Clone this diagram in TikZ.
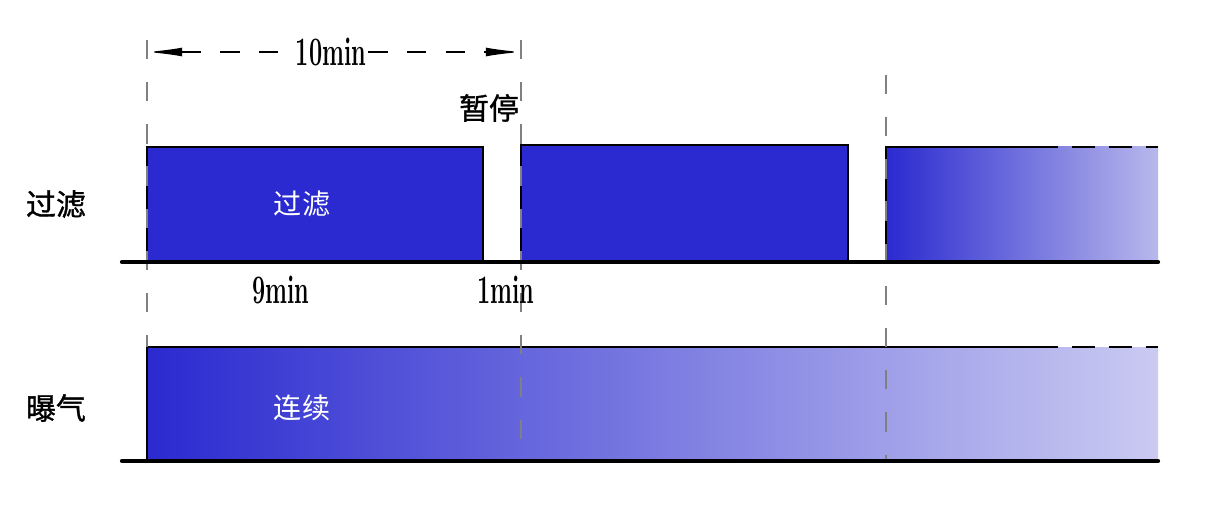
\documentclass[tikz,border=0pt]{standalone}
\usepackage{fontspec}
\usepackage{graphicx}
\newfontfamily\cjk{Noto Sans CJK SC}
\newfontfamily\cjkmed[FakeBold=1.2]{Noto Sans CJK SC}
\usetikzlibrary{arrows.meta}
\definecolor{bandblue}{RGB}{42,42,208}
\definecolor{fadeblue}{RGB}{184,184,236}
\definecolor{paleblue}{RGB}{202,202,242}
\tikzset{
	axisline/.style={line width=2.4pt, line cap=round},
	edge/.style={line width=1.1pt},
	edgedash/.style={line width=1.1pt, dash pattern=on 13pt off 8pt},
	guide/.style={gray, line width=0.6pt, dash pattern=on 11pt off 13pt},
	dimline/.style={line width=0.7pt, dash pattern=on 11pt off 11pt},
	lbl/.style={font=\cjkmed\fontsize{17}{19}\selectfont},
	inlbl/.style={font=\cjk\fontsize{16}{18}\selectfont, text=white},
	tim/.style={font=\bfseries\fontsize{23}{25}\selectfont, inner sep=1pt}
}
\newcommand{\narrow}[1]{\scalebox{0.58}[1]{#1}}
\begin{document}
\begin{tikzpicture}[x=0.02cm, y=-0.02cm]
	\useasboundingbox (0,0) rectangle (1206,506);
	% filter row
	\filldraw[fill=bandblue, edge] (147,262) -- (147,147) -- (483,147) -- (483,262);
	\filldraw[fill=bandblue, edge] (521,262) -- (521,145) -- (848,145) -- (848,262);
	\shade[left color=bandblue, right color=fadeblue] (886,147) rectangle (1158,262);
	\draw[edge] (886,262) -- (886,147) -- (1035,147);
	\draw[edgedash] (1035,147) -- (1158,147);
	% aeration row
	\shade[left color=bandblue, right color=paleblue] (147,347) rectangle (1158,461);
	\draw[edge] (147,461) -- (147,347) -- (1035,347);
	\draw[edgedash] (1035,347) -- (1158,347);
	% guides
	\foreach \x\t\b in {147/40/347, 521/40/461, 886/75/461}{
		\draw[guide] (\x,\t) -- (\x,\b);
	}
	% axes
	\foreach \y in {262, 461}{
		\draw[axisline] (122,\y) -- (1158,\y);
	}
	% labels
	\node[lbl] (flt) at (56,204) {过滤};
	\node[lbl] (aer) at (56,408) {曝气};
	\node[inlbl] (fltin) at (302,204) {过滤};
	\node[inlbl] (aerin) at (302,408) {连续};
	\node[lbl] (pause) at (489,108) {暂停};
	\node[tim] (nine) at (281,290) {\narrow{9min}};
	\node[tim] (one) at (506,290) {\narrow{1min}};
	\node[tim] (ten) at (331,52) {\narrow{10min}};
	% dimension
	\coordinate (dl) at (147,52);
	\coordinate (dr) at (521,52);
	\draw[dimline, {Latex[length=20pt, width=5pt]}-] (dl) -- (ten.west);
	\draw[dimline, -{Latex[length=20pt, width=5pt]}] (ten.east) -- (dr);
\end{tikzpicture}
\end{document}
